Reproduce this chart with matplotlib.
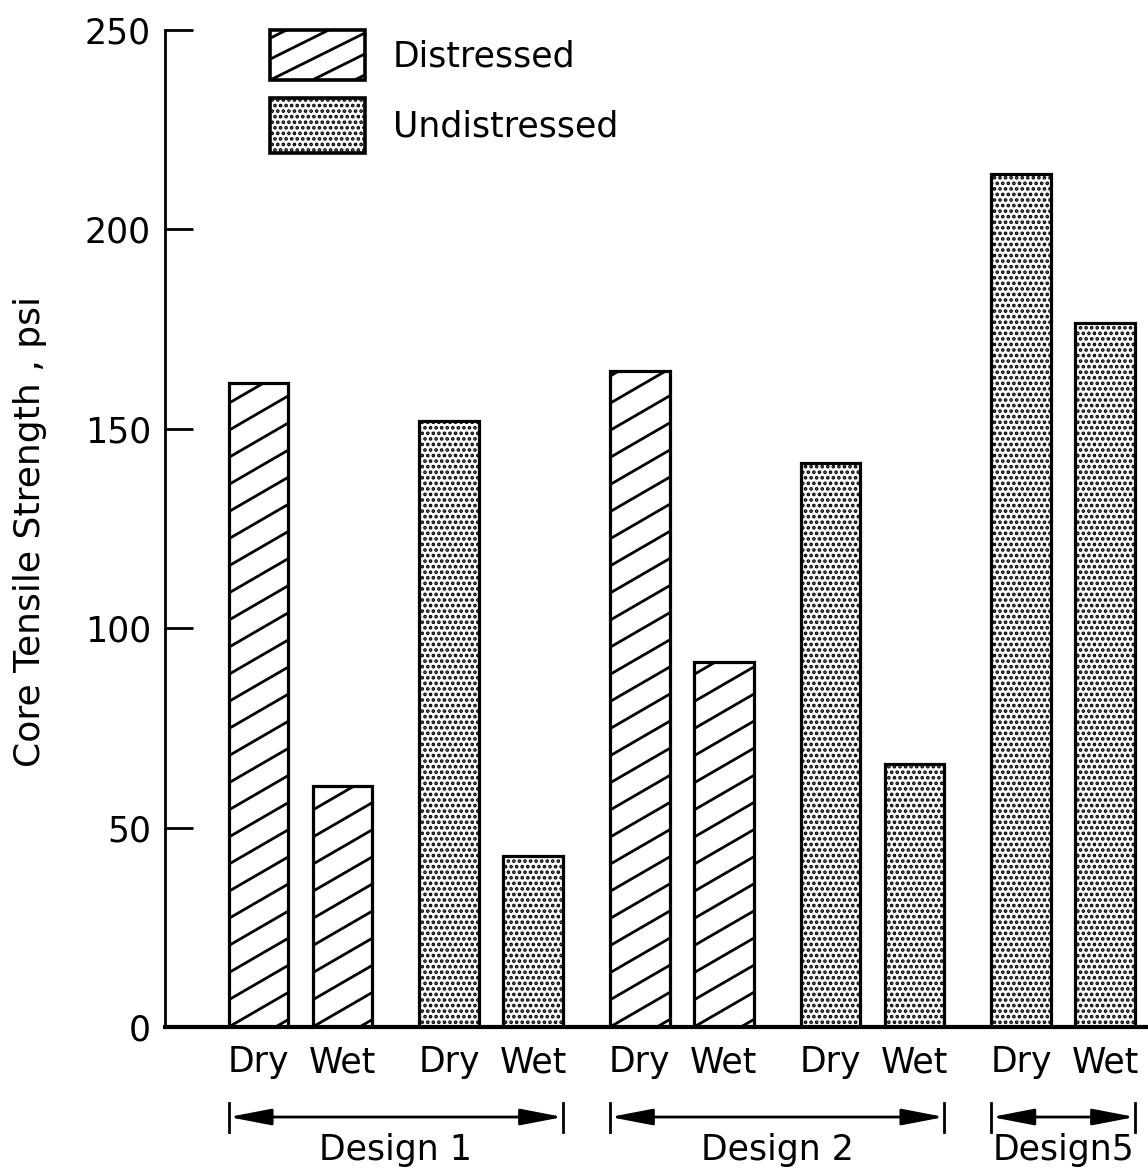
import matplotlib.pyplot as plt
import matplotlib.transforms as mtransforms
from matplotlib.patches import Rectangle
import numpy as np

plt.rcParams['font.family'] = 'DejaVu Sans'
plt.rcParams['hatch.linewidth'] = 1.8
plt.rcParams['hatch.color'] = 'black'

# data
designs = ["Design 1", "Design 2", "Design5"]
bar_design = ["Design 1"] * 4 + ["Design 2"] * 4 + ["Design5"] * 2
bar_state = ["Distressed", "Distressed", "Undistressed", "Undistressed",
             "Distressed", "Distressed", "Undistressed", "Undistressed",
             "Undistressed", "Undistressed"]
moisture = ["Dry", "Wet"] * 5
strength = [161.5, 60.5, 152, 43, 164.5, 91.5, 141.5, 66, 214, 176.5]
yticks = [0, 50, 100, 150, 200, 250]

# layout: pairs of bars, pair spacing a bit wider than bar spacing
pair_gap = 2.27
bar_w = 0.71
pos = np.array([(i // 2) * pair_gap + (i % 2) for i in range(len(strength))])

fig = plt.figure(figsize=(11.48, 11.71), dpi=100)
ax = fig.add_axes([165 / 1148, 1 - 1027 / 1171, 983 / 1148, 997 / 1171])


def slant_lines(ax, rect, x0, y0, w, h, slope, step, transform, lw=2.0):
    # shallow diagonal hatch (matplotlib's '/' is fixed at 45 deg)
    n0 = -int(np.ceil(slope * w / step)) - 1
    n1 = int(np.ceil(h / step)) + 1
    for k in range(n0, n1):
        ya = y0 + k * step
        ln, = ax.plot([x0, x0 + w], [ya, ya + slope * w], color='black',
                      lw=lw, transform=transform, zorder=2.5,
                      solid_capstyle='butt')
        ln.set_clip_path(rect)


for i in range(len(strength)):
    if bar_state[i] == "Distressed":
        b = ax.bar(pos[i], strength[i], width=bar_w, facecolor='white',
                   edgecolor='black', linewidth=2.3, zorder=2)[0]
        slant_lines(ax, b, pos[i] - bar_w / 2, 0, bar_w, strength[i],
                    slope=12.2, step=6.8, transform=ax.transData)
    else:
        ax.bar(pos[i], strength[i], width=bar_w, facecolor='white',
               edgecolor='black', linewidth=2.3, hatch='...', zorder=2)

ax.set_xlim(-1.113, 10.59)
ax.set_ylim(0, 250)

ax.spines['top'].set_visible(False)
ax.spines['right'].set_visible(False)
ax.spines['left'].set_linewidth(2)
ax.spines['bottom'].set_linewidth(3)

ax.set_yticks(yticks)
ax.set_yticklabels([str(t) for t in yticks], fontsize=25)
ax.tick_params(axis='y', direction='in', length=20, width=2, pad=10)
ax.set_xticks(pos)
ax.set_xticklabels(moisture, fontsize=25)
ax.tick_params(axis='x', length=0, pad=13)

ax.set_ylabel("Core Tensile Strength , psi", fontsize=26)
ax.yaxis.set_label_coords(-0.12, 0.4965)

# design brackets under the tick labels
trans = mtransforms.blended_transform_factory(ax.transData, ax.transAxes)
for d in designs:
    idx = [i for i in range(len(strength)) if bar_design[i] == d]
    xl = pos[idx[0]] - bar_w / 2
    xr = pos[idx[-1]] + bar_w / 2
    ax.annotate('', xy=(xr, -0.0903), xytext=(xl, -0.0903), xycoords=trans,
                textcoords=trans, annotation_clip=False,
                arrowprops=dict(arrowstyle='<|-|>,head_length=1.3,head_width=0.25',
                                color='black', lw=2, shrinkA=0, shrinkB=0,
                                mutation_scale=20))
    for xe in (xl, xr):
        ax.plot([xe, xe], [-0.0762, -0.1053], color='black', lw=2,
                transform=trans, clip_on=False)
    ax.text((xl + xr) / 2, -0.1334, d, transform=trans, ha='center',
            va='baseline', fontsize=25)

# legend drawn by hand so the slanted hatch matches the bars
leg = Rectangle((0.1068, 0.9497), 0.0966, 0.0503, transform=ax.transAxes,
                facecolor='white', edgecolor='black', lw=2.6, zorder=2,
                clip_on=False)
ax.add_patch(leg)
slant_lines(ax, leg, 0.1068, 0.9497, 0.0966, 0.0503, slope=0.49,
            step=0.021, transform=ax.transAxes)
ax.add_patch(Rectangle((0.1068, 0.8766), 0.0966, 0.0552, transform=ax.transAxes,
                       facecolor='white', edgecolor='black', lw=2.6,
                       hatch='...', zorder=2, clip_on=False))
ax.text(0.2319, 0.963, "Distressed", transform=ax.transAxes, va='baseline',
        fontsize=25)
ax.text(0.2319, 0.8927, "Undistressed", transform=ax.transAxes, va='baseline',
        fontsize=25)

fig.savefig("out.png", dpi=100)
